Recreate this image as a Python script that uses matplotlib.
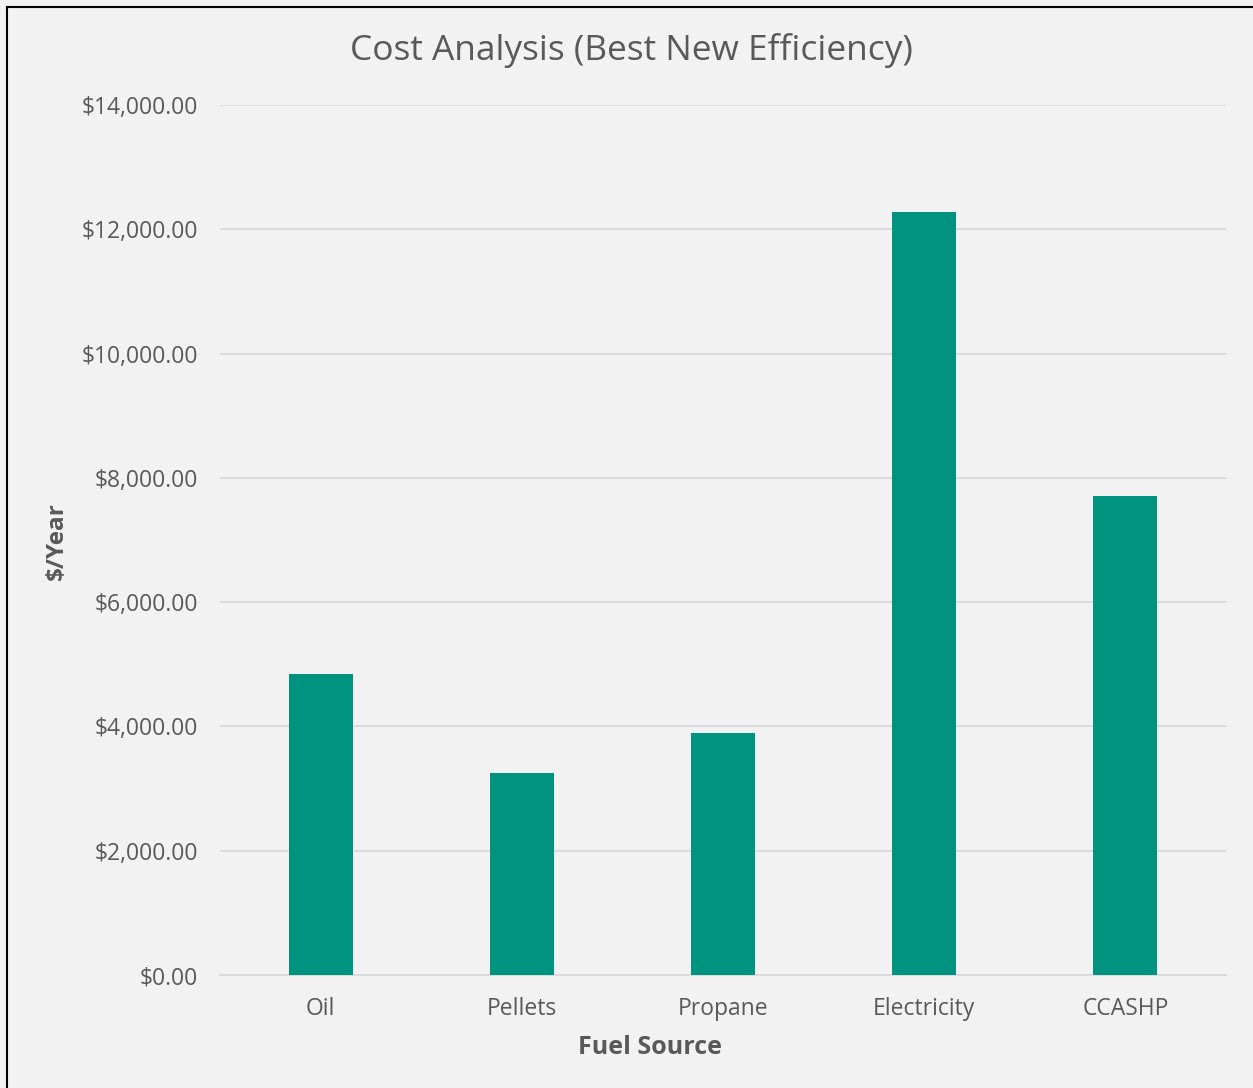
import matplotlib
matplotlib.use("Agg")
import matplotlib.pyplot as plt
from matplotlib.ticker import FuncFormatter, MultipleLocator
from matplotlib.lines import Line2D

categories = ["Oil", "Pellets", "Propane", "Electricity", "CCASHP"]
cost_per_year = [4850, 3250, 3900, 12280, 7700]

bg = "#F2F2F2"
bar_color = "#009380"
text_color = "#595959"
grid_color = "#D9D9D9"

plt.rcParams["font.family"] = ["Open Sans", "DejaVu Sans"]

fig = plt.figure(figsize=(12.53, 10.88), dpi=100, facecolor=bg)
W, H = 1253, 1088
ax = fig.add_axes([220 / W, 1 - 975 / H, (1226 - 220) / W, (975 - 105) / H])
ax.set_facecolor(bg)

x = range(len(categories))
ax.bar(x, cost_per_year, width=0.318, color=bar_color, zorder=3)

ax.set_xlim(-0.5, len(categories) - 0.5)
ax.set_ylim(0, 14000)
ax.yaxis.set_major_locator(MultipleLocator(2000))
ax.yaxis.set_major_formatter(FuncFormatter(lambda v, p: f"${v:,.2f}"))
ax.set_xticks(list(x))
ax.set_xticklabels(categories)

ax.grid(axis="y", color=grid_color, linewidth=1.3, zorder=0)
for s in ["top", "right", "left"]:
    ax.spines[s].set_visible(False)
ax.spines["bottom"].set_color(grid_color)
ax.spines["bottom"].set_linewidth(1.3)
ax.tick_params(axis="both", length=0, labelsize=16.5, labelcolor=text_color)
ax.tick_params(axis="y", pad=15.8)
ax.tick_params(axis="x", pad=16)

ax.set_xlabel("Fuel Source", fontsize=18, fontweight="bold", color=text_color)
ax.xaxis.set_label_coords((650 - 220) / (1226 - 220), -(1047 - 975) / (975 - 105))
ax.xaxis.label.set_va("center")
ax.set_ylabel("$/Year", fontsize=17.5, fontweight="bold", color=text_color)
ax.yaxis.set_label_coords(-(220 - 57) / (1226 - 220), (975 - 541) / (975 - 105))
ax.yaxis.label.set_va("center")

fig.text(631 / W, 1 - 50 / H, "Cost Analysis (Best New Efficiency)", ha="center", va="center",
         fontsize=25.4, color=text_color)

# chart frame edges
fig.add_artist(Line2D([6.5 / W, 6.5 / W], [0, 1 - 6.5 / H], color="black", linewidth=1.5))
fig.add_artist(Line2D([6.5 / W, 1], [1 - 6.5 / H, 1 - 6.5 / H], color="black", linewidth=1.5))

fig.savefig("out.png", dpi=100, facecolor=bg)
